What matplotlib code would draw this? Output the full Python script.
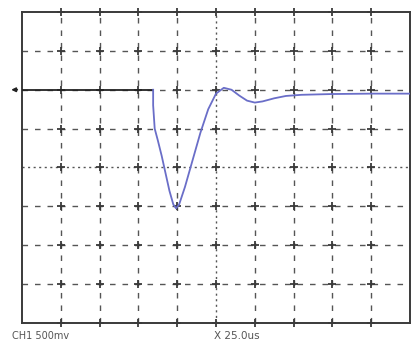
import matplotlib
matplotlib.use("Agg")
import matplotlib.pyplot as plt
import numpy as np

# Oscilloscope trace (divisions): x 0..10, y -4..4
flat_t = [0.0, 3.38]
flat_v = [2.0, 2.0]
resp_t = [3.38, 3.38, 3.42, 3.5, 3.6, 3.7, 3.8, 3.9, 3.97, 4.05, 4.2, 4.4, 4.6,
          4.8, 5.0, 5.2, 5.4, 5.6, 5.8, 6.0, 6.2, 6.5, 6.8, 7.2, 8.0, 9.0, 10.0]
resp_v = [2.0, 1.6, 1.0, 0.7, 0.3, -0.15, -0.6, -0.95, -1.05, -0.95, -0.5, 0.2, 0.9,
          1.5, 1.9, 2.05, 2.0, 1.85, 1.72, 1.67, 1.7, 1.78, 1.84, 1.87, 1.89, 1.9, 1.9]
ground_level = 2.0
x_divs = list(range(1, 10))
y_divs = list(range(-3, 4))
ch_label = "CH1 500mv"
time_label = "X 25.0us"

fig = plt.figure(figsize=(4.12, 3.45), dpi=100)
ax = fig.add_axes([22/412, 1-323/345, 388/412, 311/345])
ax.set_xlim(0, 10)
ax.set_ylim(-4, 4)
ax.set_xticks([])
ax.set_yticks([])
for s in ax.spines.values():
    s.set_linewidth(1.4)
    s.set_color("#3a3a3a")

gc = "#555555"
for x in x_divs:
    if x == 5:
        ax.axvline(x, color=gc, lw=1.0, ls=(0, (1.5, 2.5)), zorder=1)
    else:
        ax.axvline(x, color=gc, lw=1.0, ls=(0, (4, 5)), zorder=1)
for y in y_divs:
    if y == 0:
        ax.axhline(y, color=gc, lw=1.0, ls=(0, (1.5, 2.5)), zorder=1)
    else:
        ax.axhline(y, color=gc, lw=1.0, ls=(0, (4, 5)), zorder=1)

# crosses at intersections
xx, yy = np.meshgrid(x_divs, y_divs + [-4, 4])
ax.plot(xx.ravel(), yy.ravel(), ls="none", marker="+", ms=6, mew=1.3,
        color="#3a3a3a", zorder=2, clip_on=False)

ax.plot(flat_t, flat_v, color="#222222", lw=1.3, zorder=3)
ax.plot(resp_t, resp_v, color="#6a6ec8", lw=1.3, zorder=3)

ax.annotate("", xy=(-0.35, ground_level), xytext=(-0.05, ground_level),
            xycoords="data", annotation_clip=False,
            arrowprops=dict(arrowstyle="-|>", color="#222222", lw=1.2,
                            mutation_scale=6))

fig.text(12/412, 1-336/345, ch_label, fontsize=7, color="#555555", va="center")
fig.text(237/412, 1-336/345, time_label, fontsize=7.5, color="#555555",
         va="center", ha="center")

fig.savefig("out.png", dpi=100)
